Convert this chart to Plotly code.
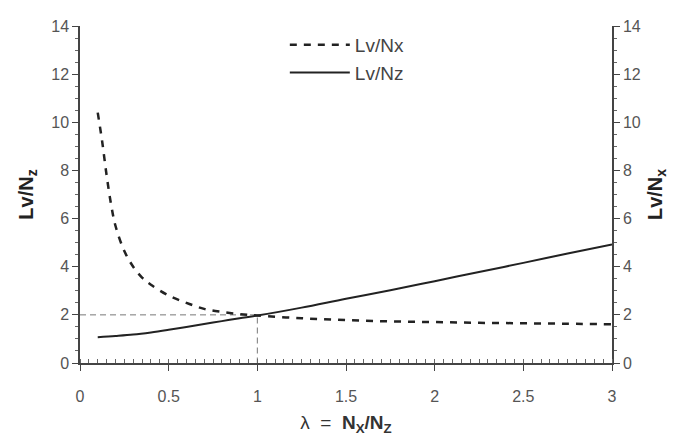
import plotly.graph_objects as go

lam_nx = [0.1, 0.125, 0.15, 0.175, 0.2, 0.25, 0.3, 0.35, 0.4, 0.5, 0.6, 0.7, 0.8, 0.9, 1.0,
          1.25, 1.5, 1.75, 2.0, 2.25, 2.5, 2.75, 3.0]
lv_nx = [10.4, 9.2, 7.8, 6.6, 5.7, 4.65, 4.0, 3.55, 3.25, 2.8, 2.5, 2.25, 2.12, 2.03, 1.97,
         1.86, 1.78, 1.73, 1.70, 1.67, 1.65, 1.63, 1.61]

lam_nz = [0.1, 0.2, 0.3, 0.4, 0.5, 0.6, 0.7, 0.8, 0.9, 1.0, 1.25, 1.5, 1.75, 2.0, 2.25, 2.5, 2.75, 3.0]
lv_nz = [1.07, 1.12, 1.18, 1.27, 1.38, 1.50, 1.62, 1.74, 1.86, 1.97, 2.3, 2.67, 3.02, 3.4, 3.78, 4.16, 4.55, 4.92]

ref_x = [0, 1, 1]
ref_y = [2, 2, 0]

font_family = "Liberation Sans, Arial, sans-serif"
tick_col = "#555555"

fig = go.Figure()
fig.add_trace(go.Scatter(x=ref_x, y=ref_y, mode="lines", showlegend=False,
                         line=dict(color="#777777", width=1, dash="6px,4px"), hoverinfo="skip"))
fig.add_trace(go.Scatter(x=lam_nx, y=lv_nx, mode="lines", name="Lv/Nx",
                         line=dict(color="#222222", width=2.5, dash="7px,7px", shape="spline")))
fig.add_trace(go.Scatter(x=lam_nz, y=lv_nz, mode="lines", name="Lv/Nz",
                         line=dict(color="#222222", width=2, shape="spline")))
fig.add_trace(go.Scatter(x=[None], y=[None], yaxis="y2", showlegend=False, hoverinfo="skip"))

axis_common = dict(showgrid=False, zeroline=False, showline=True, linecolor="#444444", linewidth=1.5,
                   tickfont=dict(family=font_family, size=16, color=tick_col),
                   ticks="outside", ticklen=6, tickcolor="#444444", automargin=False)

fig.update_layout(
    width=672, height=429,
    margin=dict(l=72, r=68, t=18, b=74),
    paper_bgcolor="white", plot_bgcolor="white",
    font=dict(family=font_family),
    xaxis=dict(range=[0, 3], tickvals=[0, 0.5, 1, 1.5, 2, 2.5, 3],
               ticktext=["0", "0.5", "1", "1.5", "2", "2.5", "3"],
               ticklabelstandoff=12,
               minor=dict(dtick=0.05, ticks="inside", ticklen=4, tickcolor="#666666"),
               title=dict(text="λ  =  <b>N<sub>X</sub>/N<sub>Z</sub></b>", standoff=12,
                          font=dict(family=font_family, size=19, color="#333333")),
               **axis_common),
    yaxis=dict(range=[0, 14], dtick=2,
               minor=dict(dtick=0.5, ticks="outside", ticklen=3, tickcolor="#666666"),
               title=dict(text="<b>Lv/N<sub>z</sub></b>", standoff=12,
                          font=dict(family=font_family, size=20, color="#222222")),
               **axis_common),
    yaxis2=dict(range=[0, 14], dtick=2, overlaying="y", side="right",
                minor=dict(dtick=0.5, ticks="outside", ticklen=3, tickcolor="#666666"),
                title=dict(text="<b>Lv/N<sub>x</sub></b>", standoff=8,
                           font=dict(family=font_family, size=20, color="#222222")),
                **axis_common),
    legend=dict(x=0.385, y=1.0, xanchor="left", yanchor="top", bgcolor="rgba(0,0,0,0)",
                font=dict(family=font_family, size=19, color="#444444"),
                itemwidth=60, tracegroupgap=0),
)

fig.write_html("out.html")
